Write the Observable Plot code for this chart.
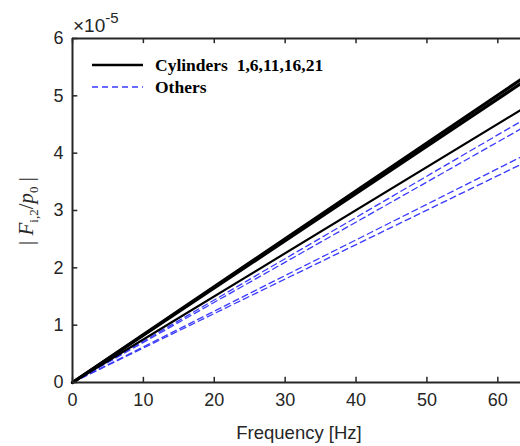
<!DOCTYPE html>
<html>
<head>
<meta charset="utf-8">
<script src="https://cdn.jsdelivr.net/npm/d3@7"></script>
<script src="https://cdn.jsdelivr.net/npm/@observablehq/plot@0.6"></script>
<style>
  body { margin: 0; background: #fff; }
  #chart { position: relative; width: 520px; height: 446px; }
</style>
</head>
<body>
<div id="chart"></div>
<script>
// Frequency samples (Hz) at which curves are drawn
const freq = [0, 63.2];
// |F/p0| (×1e-5) for cylinders 1,6,11,16,21 at each frequency
const cylinders = [
  [0, 5.28],
  [0, 5.21],
  [0, 4.75]
];
// Others
const others = [
  [0, 4.55],
  [0, 4.42],
  [0, 3.93],
  [0, 3.80]
];
const xTicks = [0, 10, 20, 30, 40, 50, 60];
const yTicks = [0, 1, 2, 3, 4, 5, 6];

const rows = [];
cylinders.forEach((s, i) => s.forEach((v, j) => rows.push({series: "c" + i, group: "cyl", f: freq[j], v})));
others.forEach((s, i) => s.forEach((v, j) => rows.push({series: "o" + i, group: "oth", f: freq[j], v})));

const axisColor = "#262626";
const plot = Plot.plot({
  width: 520,
  height: 446,
  marginLeft: 72,
  marginRight: 0,
  marginTop: 38,
  marginBottom: 64,
  x: {domain: [0, 63.2]},
  y: {domain: [0, 6]},
  style: {fontFamily: "'Liberation Sans', Arial, sans-serif", fontSize: "18px", color: axisColor, background: "white"},
  marks: [
    Plot.line(rows.filter(d => d.group === "oth"), {x: "f", y: "v", z: "series", stroke: "#3a3aff", strokeWidth: 1.3, strokeDasharray: "6,4"}),
    Plot.line(rows.filter(d => d.series === "c2"), {x: "f", y: "v", z: "series", stroke: "black", strokeWidth: 2.2}),
    Plot.line(rows.filter(d => d.group === "cyl" && d.series !== "c2"), {x: "f", y: "v", z: "series", stroke: "black", strokeWidth: 3.2}),
    Plot.axisX(xTicks, {anchor: "bottom", tickSize: 0, tickPadding: 11, fill: axisColor, label: null, tickFormat: d => d, fontSize: 18}),
    Plot.axisY(yTicks, {anchor: "left", tickSize: 0, tickPadding: 9, fill: axisColor, label: null, tickFormat: d => d, fontSize: 18}),
    // inward tick marks
    Plot.ruleX(xTicks, {y1: 0, y2: 0.09, stroke: axisColor, strokeWidth: 1.5}),
    Plot.ruleX(xTicks, {y1: 5.91, y2: 6, stroke: axisColor, strokeWidth: 1.5}),
    Plot.ruleY(yTicks, {x1: 0, x2: 0.75, stroke: axisColor, strokeWidth: 1.5}),
    Plot.ruleX([0], {stroke: axisColor, strokeWidth: 2}),
    Plot.ruleY([0, 6], {stroke: axisColor, strokeWidth: 2})
  ]
});
document.getElementById("chart").appendChild(plot);

const svg = d3.select(plot);
// enlarge tick labels
svg.selectAll('g[aria-label="x-axis tick label"], g[aria-label="y-axis tick label"]')
  .attr("font-size", 18).style("font-size", "18px")
  .selectAll("text").attr("font-size", 18).style("font-size", "18px");
// x-axis label
svg.append("text").attr("x", 299).attr("y", 439).attr("text-anchor", "middle")
  .style("font-family", "'Liberation Sans', Arial, sans-serif").style("font-size", "18.5px").attr("fill", axisColor)
  .text("Frequency [Hz]");
// exponent
const ex = svg.append("text").attr("x", 73).attr("y", 32).attr("text-anchor", "start")
  .style("font-family", "'Liberation Sans', Arial, sans-serif").style("font-size", "19px").attr("fill", axisColor);
ex.append("tspan").text("×10");
ex.append("tspan").attr("dy", -9).style("font-size", "15px").text("-5");
// y-axis label
const yl = svg.append("text").attr("transform", "translate(33,211) rotate(-90)").attr("text-anchor", "middle")
  .style("font-family", "'Liberation Serif', 'Times New Roman', serif").style("font-size", "21px").attr("fill", axisColor);
yl.append("tspan").text("| ");
yl.append("tspan").attr("font-style", "italic").text("F");
yl.append("tspan").attr("dy", 5).style("font-size", "13px").text("i,2");
yl.append("tspan").attr("dy", -5).text("/");
yl.append("tspan").attr("font-style", "italic").text("p");
yl.append("tspan").attr("dy", 5).style("font-size", "13px").text("0");
yl.append("tspan").attr("dy", -5).text(" |");
// legend
const lg = svg.append("g");
lg.append("line").attr("x1", 92).attr("x2", 143).attr("y1", 65).attr("y2", 65).attr("stroke", "black").attr("stroke-width", 2.5);
lg.append("line").attr("x1", 92).attr("x2", 143).attr("y1", 87).attr("y2", 87).attr("stroke", "#3a3aff").attr("stroke-width", 1.3).attr("stroke-dasharray", "6,4");
lg.append("text").attr("x", 155).attr("y", 71).attr("text-anchor", "start").style("font-family", "'Liberation Serif', 'Times New Roman', serif")
  .attr("font-weight", "bold").style("font-size", "17.5px").attr("fill", "black").attr("xml:space", "preserve").text("Cylinders  1,6,11,16,21");
lg.append("text").attr("x", 155).attr("y", 93).attr("text-anchor", "start").style("font-family", "'Liberation Serif', 'Times New Roman', serif")
  .attr("font-weight", "bold").style("font-size", "17.5px").attr("fill", "black").text("Others");
</script>
</body>
</html>
